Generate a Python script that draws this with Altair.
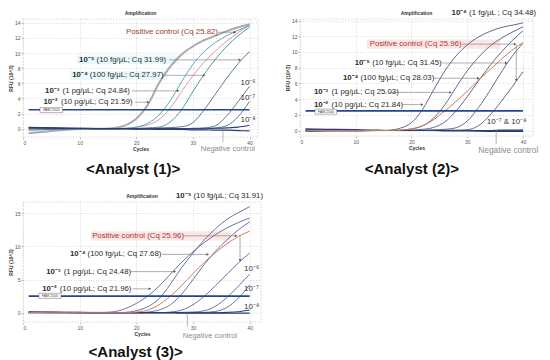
import altair as alt
import pandas as pd

FONT = "Liberation Sans"

CYCLES = [1, 5, 10, 14, 16, 18, 20, 22, 24, 26, 28, 30, 32, 34, 36, 38, 40]

# ---------------- Analyst (1): RFU (10^3) ----------------
a1_d2 = [-0.6, -0.3, -0.05, 0.0, 0.1, 0.4, 1.3, 3.1, 6.0, 8.2, 9.8, 10.9, 11.7, 12.3, 12.9, 13.4, 13.8]
a1_pc = [0.0, 0.0, 0.0, 0.0, 0.0, 0.05, 0.2, 0.5, 1.2, 2.7, 4.9, 7.0, 8.8, 10.3, 11.6, 12.7, 13.7]
a1_d3 = [0.05, 0.0, 0.0, 0.0, 0.0, 0.05, 0.2, 0.7, 1.8, 3.7, 6.2, 8.5, 10.2, 11.4, 12.3, 13.0, 13.6]
a1_d4 = [0.1, 0.05, 0.0, 0.0, 0.0, 0.0, 0.05, 0.1, 0.2, 0.9, 2.5, 4.9, 7.2, 9.2, 10.9, 12.3, 13.4]
a1_d5 = [0.0, 0.0, 0.0, 0.0, 0.0, 0.0, 0.0, 0.05, 0.1, 0.15, 0.25, 0.8, 2.5, 4.6, 6.7, 8.6, 10.2]
a1_d6 = [-0.2, -0.1, 0.0, 0.0, 0.0, 0.0, 0.0, 0.0, 0.0, 0.0, 0.0, 0.05, 0.1, 0.4, 1.7, 3.6, 5.6]
a1_d7 = [0.0, 0.0, 0.0, 0.0, 0.0, 0.0, 0.0, 0.0, 0.0, 0.0, 0.0, 0.0, 0.05, 0.1, 0.4, 1.6, 3.6]
a1_d8 = [0.2, 0.1, 0.05, 0.0, 0.0, 0.0, 0.0, 0.0, 0.0, 0.0, 0.0, 0.0, 0.0, 0.05, 0.1, 0.2, 0.45]
a1_nc = [0.15, 0.1, 0.05, 0.0, 0.0, 0.0, -0.05, -0.05, -0.1, -0.1, -0.1, -0.15, -0.15, -0.2, -0.2, -0.25, -0.3]

# ---------------- Analyst (2) ----------------
a2_d2 = [0.05, 0.0, 0.0, 0.0, 0.05, 0.3, 1.0, 2.7, 5.2, 7.6, 9.5, 10.9, 11.9, 12.6, 13.1, 13.4, 13.7]
a2_d3 = [0.1, 0.05, 0.0, 0.0, 0.0, 0.05, 0.2, 0.6, 1.6, 3.3, 5.5, 7.6, 9.3, 10.7, 11.7, 12.5, 13.2]
a2_pc = [0.0, 0.0, 0.0, 0.0, 0.0, 0.05, 0.2, 0.6, 1.4, 2.5, 3.7, 5.0, 6.4, 7.7, 9.0, 10.2, 11.2]
a2_d4 = [0.0, 0.0, 0.0, 0.0, 0.0, 0.0, 0.05, 0.15, 0.4, 1.1, 2.5, 4.3, 6.3, 8.2, 9.9, 11.4, 12.7]
a2_d5 = [0.0, 0.0, 0.0, 0.0, 0.0, 0.0, 0.0, 0.05, 0.1, 0.15, 0.35, 1.2, 2.9, 5.0, 7.3, 9.4, 11.1]
a2_d6 = [0.0, 0.0, 0.0, 0.0, 0.0, 0.0, 0.0, 0.0, 0.0, 0.05, 0.05, 0.1, 0.6, 1.9, 3.6, 5.5, 7.5]
a2_d7 = [0.05, 0.05, 0.0, 0.0, 0.0, 0.0, 0.0, 0.0, 0.0, 0.0, 0.0, 0.0, 0.0, 0.0, 0.05, 0.05, 0.1]
a2_d8 = [-0.1, -0.05, -0.05, 0.0, 0.0, 0.0, 0.0, 0.0, 0.0, 0.0, 0.0, 0.0, -0.05, -0.05, -0.05, -0.05, -0.05]
a2_nc = [0.2, 0.15, 0.1, 0.05, 0.0, 0.0, 0.0, 0.0, 0.0, -0.05, -0.05, -0.05, -0.05, -0.1, -0.1, -0.1, -0.1]

# ---------------- Analyst (3) ----------------
a3_d2 = [0.1, 0.1, 0.05, 0.05, 0.15, 0.6, 1.4, 2.5, 4.0, 5.8, 7.6, 9.2, 10.6, 11.8, 12.8, 13.6, 14.3]
a3_d3 = [0.1, 0.05, 0.0, 0.0, 0.0, 0.05, 0.3, 0.9, 2.1, 4.3, 6.8, 9.0, 11.0, 12.7, 14.1, 15.1, 16.0]
a3_pc = [0.05, 0.0, 0.0, 0.0, 0.0, 0.0, 0.1, 0.4, 1.2, 2.5, 4.1, 5.9, 7.6, 9.1, 10.4, 11.5, 12.3]
a3_d4 = [0.05, 0.0, 0.0, 0.0, 0.0, 0.0, 0.0, 0.1, 0.4, 1.2, 2.8, 5.0, 7.3, 9.3, 11.0, 12.5, 13.7]
a3_d5 = [0.0, 0.0, 0.0, 0.0, 0.0, 0.0, 0.0, 0.0, 0.0, 0.1, 0.4, 1.2, 2.5, 4.1, 5.8, 7.5, 9.0]
a3_d6 = [0.0, 0.0, 0.0, 0.0, 0.0, 0.0, 0.0, 0.0, 0.0, 0.0, 0.05, 0.1, 0.3, 1.0, 2.3, 4.0, 5.8]
a3_d7 = [0.0, 0.0, 0.0, 0.0, 0.0, 0.0, 0.0, 0.0, 0.0, 0.0, 0.0, 0.0, 0.05, 0.2, 0.8, 2.2, 4.2]
a3_d8 = [0.05, 0.05, 0.0, 0.0, 0.0, 0.0, 0.0, 0.0, 0.0, 0.0, 0.0, 0.0, 0.0, 0.0, 0.05, 0.15, 0.4]
a3_nc = [0.1, 0.05, 0.05, 0.0, 0.0, 0.0, 0.0, 0.0, 0.0, 0.0, -0.05, -0.05, -0.05, -0.05, -0.05, -0.05, -0.05]

THRESHOLD = 2.5
THR_START, THR_END = 1, 40

# ---------------- annotation texts ----------------
HEAD = ["Amplification"]

A1_PC = ["Positive control (Cq 25.82)"]
A1_BOLD = ["10⁻⁵", "10⁻⁴", "10⁻³", "10⁻²"]
A1_REST = ["(10 fg/μL; Cq 31.99)", "(100 fg/μL; Cq 27.97)", "(1 pg/μL; Cq 24.84)", "(10 pg/μL; Cq 21.59)"]
A1_SIDE = ["10⁻⁶", "10⁻⁷", "10⁻⁸"]

A2_PC = ["Positive control (Cq 25.96)"]
A2_TOP_BOLD = ["10⁻⁶"]
A2_TOP_REST = ["(1 fg/μL ; Cq 34.48)"]
A2_BOLD = ["10⁻⁵", "10⁻⁴", "10⁻³", "10⁻²"]
A2_REST = ["(10 fg/μL; Cq 31.45)", "(100 fg/μL; Cq 28.03)", "(1 pg/μL; Cq 25.03)", "(10 pg/μL; Cq 21.84)"]
A2_SIDE = ["10⁻⁷ & 10⁻⁸"]

A3_PC = ["Positive control (Cq 25.96)"]
A3_TOP_BOLD = ["10⁻⁵"]
A3_TOP_REST = ["(10 fg/μL; Cq 31.91)"]
A3_BOLD = ["10⁻⁴", "10⁻³", "10⁻²"]
A3_REST = ["(100 fg/μL; Cq 27.68)", "(1 pg/μL; Cq 24.48)", "(10 pg/μL; Cq 21.96)"]
A3_SIDE = ["10⁻⁶", "10⁻⁷", "10⁻⁸"]

# annotation anchor points (cycle, RFU)
A1_HEAD_POS = dict(x=[20.75], y=[15.25])
A1_PC_POS = dict(x=[18.2], y=[12.75], ax0=[34.4], ax1=[37.4])
A1_LAB_POS = dict(x=[9.9, 8.7, 3.9, 3.6], y=[9.1, 7.05, 5.0, 3.5],
                  ax0=[25.8, 25.0, 19.2, 19.8], ax1=[38.3, 32.0, 27.4, 22.1])
A1_SIDE_POS = dict(x=[38.4, 38.4, 38.4], y=[6.1, 4.1, 1.1])
A1_NC_POS = dict(x=[31.4], y=[-2.75], cx=[35.3], cy0=[-0.25], cy1=[-1.8])

A2_HEAD_POS = dict(x=[20.9], y=[14.92])
A2_PC_POS = dict(x=[12.5], y=[11.0], ax0=[29.1], ax1=[38.6])
A2_TOP_POS = dict(x=[27.2], y=[14.95], vx=[38.8], vy0=[10.9], vy1=[6.4])
A2_LAB_POS = dict(x=[9.8, 7.7, 2.5, 2.5], y=[8.6, 6.65, 4.85, 3.3],
                  ax0=[25.4, 24.0, 16.0, 18.4], ax1=[37.0, 32.0, 27.0, 21.9])
A2_SIDE_POS = dict(x=[33.5], y=[1.1])
A2_NC_POS = dict(x=[32.0], y=[-2.6], cx=[35.2], cy0=[0.0], cy1=[-1.7])
A2_BAND = dict(x=[12.0], x2=[36.0], y=[10.4], y2=[11.6])

A3_HEAD_POS = dict(x=[21.0], y=[17.55])
A3_PC_POS = dict(x=[12.2], y=[11.6], ax0=[28.3], ax1=[37.6])
A3_TOP_POS = dict(x=[27.0], y=[17.55], vx=[38.3], vy0=[11.6], vy1=[7.9])
A3_LAB_POS = dict(x=[8.3, 4.1, 3.4], y=[8.8, 6.2, 3.6],
                  ax0=[24.5, 19.0, 19.3], ax1=[32.6, 26.8, 22.4])
A3_SIDE_POS = dict(x=[39.0, 39.0, 39.0], y=[6.6, 3.6, 0.9])
A3_NC_POS = dict(x=[28.2], y=[-3.5], cx=[29.0], cy0=[0.0], cy1=[-2.1])
A3_BAND = dict(x=[12.0], x2=[36.7], y=[10.9], y2=[12.3])

A1_FAM = dict(x=[3.0], x2=[7.0], y=[2.12], y2=[2.78], cx=[5.0], cy=[2.45])
A2_FAM = dict(x=[2.7], x2=[6.6], y=[2.08], y2=[2.72], cx=[4.65], cy=[2.4])
A3_FAM = dict(x=[2.8], x2=[6.7], y=[2.17], y2=[2.93], cx=[4.75], cy=[2.55])

SLATE1 = "#4a6b8c"
TEAL1 = "#43a0b3"
NAVY = "#283c78"


def curve_frame(items):
    rows = []
    for name, vals, color, width in items:
        for c, v in zip(CYCLES, vals):
            rows.append({"cycle": c, "rfu": v, "series": name, "col": color, "w": width})
    return pd.DataFrame(rows)


def build_panel(cfg):
    xs = alt.Scale(domain=cfg["xdom"], nice=False, zero=False)
    ys = alt.Scale(domain=cfg["ydom"], nice=False, zero=False)
    common = dict(labelFontSize=5, labelColor="#555", titleFontSize=5, titleFontWeight="bold",
                  titleColor="#333", tickSize=2, tickColor="#888", tickWidth=0.5,
                  labelPadding=1, titlePadding=1, domain=False, grid=True,
                  gridColor="#c6c6c6", gridDash=[1, 1.5], gridWidth=0.6,
                  labelFont=FONT, titleFont=FONT)
    xax = alt.Axis(values=[0, 10, 20, 30, 40], title="Cycles", format="d", **common)
    yax = alt.Axis(values=cfg["yticks"], title="RFU (10^3)", format="d", **common)

    def X(f):
        return alt.X(f + ":Q", scale=xs, axis=xax)

    def Y(f):
        return alt.Y(f + ":Q", scale=ys, axis=yax)

    layers = []
    if cfg.get("band"):
        bd = pd.DataFrame(cfg["band"])
        layers.append(alt.Chart(bd).mark_rect(color="#fbe2e2", opacity=0.9).encode(
            x=X("x"), x2="x2", y=Y("y"), y2="y2"))
    if cfg.get("cyan"):
        cd = pd.DataFrame(cfg["cyan"])
        layers.append(alt.Chart(cd).mark_rect(color="#e6f8fa", opacity=0.9).encode(
            x=X("x"), x2="x2", y=Y("y"), y2="y2"))

    # curves
    for grp in cfg["curve_groups"]:
        df = curve_frame(grp)
        layers.append(alt.Chart(df).mark_line(interpolate="monotone").encode(
            x=X("cycle"), y=Y("rfu"), detail="series:N",
            color=alt.Color("col:N", scale=None),
            strokeWidth=alt.StrokeWidth("w:Q", scale=None)))

    # threshold
    td = pd.DataFrame({"x": [THR_START], "x2": [THR_END], "y": [THRESHOLD]})
    layers.append(alt.Chart(td).mark_rule(color="#23458c", strokeWidth=1.7).encode(
        x=X("x"), x2="x2", y=Y("y")))
    fd = pd.DataFrame(cfg["fam"])
    fd["t"] = "FAM 2500"
    layers.append(alt.Chart(fd).mark_rect(fill="white", stroke="#666", strokeWidth=0.5).encode(
        x=X("x"), x2="x2", y=Y("y"), y2="y2"))
    layers.append(alt.Chart(fd).mark_text(fontSize=3.6, color="#444", font=FONT).encode(
        x=X("cx"), y=Y("cy"), text="t:N"))

    # chart heading (as a text mark so it can share the row with top labels)
    hd = pd.DataFrame(cfg["head_pos"])
    hd["t"] = HEAD
    layers.append(alt.Chart(hd).mark_text(baseline="middle", fontSize=5, fontWeight="bold",
                                          color="#333", font=FONT).encode(
        x=X("x"), y=Y("y"), text="t:N"))

    # dilution labels with arrows
    ld = pd.DataFrame(cfg["lab_pos"])
    ld["bold"] = cfg["bold"]
    ld["rest"] = cfg["rest"]
    layers.append(alt.Chart(ld).mark_rule(color="#777", strokeWidth=0.6).encode(
        x=X("ax0"), x2="ax1", y=Y("y")))
    layers.append(alt.Chart(ld).mark_point(shape="triangle-right", filled=True, size=8,
                                           color="#555", opacity=1).encode(x=X("ax1"), y=Y("y")))
    layers.append(alt.Chart(ld).mark_text(align="left", baseline="middle", fontSize=7.8,
                                          fontWeight="bold", color="#2b2b2b", font=FONT).encode(
        x=X("x"), y=Y("y"), text="bold:N"))
    layers.append(alt.Chart(ld).mark_text(align="left", baseline="middle", fontSize=7.8,
                                          dx=17.5, color="#2b2b2b", font=FONT).encode(
        x=X("x"), y=Y("y"), text="rest:N"))

    # positive control label
    pd_ = pd.DataFrame(cfg["pc_pos"])
    pd_["t"] = cfg["pc"]
    layers.append(alt.Chart(pd_).mark_rule(color="#777", strokeWidth=0.6).encode(
        x=X("ax0"), x2="ax1", y=Y("y")))
    layers.append(alt.Chart(pd_).mark_point(shape="triangle-right", filled=True, size=8,
                                            color="#555", opacity=1).encode(x=X("ax1"), y=Y("y")))
    layers.append(alt.Chart(pd_).mark_text(align="left", baseline="middle", fontSize=7.8,
                                           color="#a63a30", font=FONT).encode(
        x=X("x"), y=Y("y"), text="t:N"))

    # top label with vertical arrow
    if cfg.get("top_pos"):
        tp = pd.DataFrame(cfg["top_pos"])
        tp["bold"] = cfg["top_bold"]
        tp["rest"] = cfg["top_rest"]
        layers.append(alt.Chart(tp).mark_rule(color="#777", strokeWidth=0.6).encode(
            x=X("vx"), y=Y("vy0"), y2="vy1"))
        layers.append(alt.Chart(tp).mark_point(shape="triangle-down", filled=True, size=8,
                                               color="#555", opacity=1).encode(x=X("vx"), y=Y("vy1")))
        layers.append(alt.Chart(tp).mark_text(align="left", baseline="middle", fontSize=7.8,
                                              fontWeight="bold", color="#2b2b2b", font=FONT).encode(
            x=X("x"), y=Y("y"), text="bold:N"))
        layers.append(alt.Chart(tp).mark_text(align="left", baseline="middle", fontSize=7.8,
                                              dx=17.5, color="#2b2b2b", font=FONT).encode(
            x=X("x"), y=Y("y"), text="rest:N"))

    # side labels
    sd = pd.DataFrame(cfg["side_pos"])
    sd["t"] = cfg["side"]
    layers.append(alt.Chart(sd).mark_text(align="left", baseline="middle", fontSize=8,
                                          color="#333", font=FONT).encode(
        x=X("x"), y=Y("y"), text="t:N"))

    # negative control
    nd = pd.DataFrame(cfg["nc_pos"])
    nd["t"] = "Negative control"
    layers.append(alt.Chart(nd).mark_rule(color="#888", strokeWidth=0.6).encode(
        x=X("cx"), y=Y("cy0"), y2="cy1"))
    layers.append(alt.Chart(nd).mark_text(align="left", baseline="middle", fontSize=cfg["nc_size"],
                                          color="#8c8c8c", font=FONT).encode(
        x=X("x"), y=Y("y"), text="t:N"))

    layer = alt.layer(*layers).properties(width=cfg["w"], height=cfg["h"])
    return alt.vconcat(layer, spacing=0, title=alt.TitleParams(
        cfg["caption"], orient="bottom", fontSize=15, fontWeight="bold", color="#111",
        offset=cfg["cap_offset"], anchor="middle", font=FONT))


p1 = build_panel(dict(
    xdom=[0, 41.5], ydom=[-1.1, 14.5], yticks=[0, 2, 4, 6, 8, 10, 12, 14], w=235, h=118,
    curve_groups=[
        [("d2", a1_d2, "#a9a9af", 2.0)],
        [("pc", a1_pc, "#d98c9c", 0.9), ("d3", a1_d3, TEAL1, 0.9), ("d4", a1_d4, "#3f8a9c", 0.9),
         ("d5", a1_d5, SLATE1, 0.9), ("d6", a1_d6, SLATE1, 0.9), ("d7", a1_d7, "#3f6f86", 0.9),
         ("d8", a1_d8, NAVY, 1.1), ("nc", a1_nc, NAVY, 1.2)],
    ],
    head_pos=A1_HEAD_POS,
    fam=A1_FAM, lab_pos=A1_LAB_POS, bold=A1_BOLD, rest=A1_REST,
    pc_pos=A1_PC_POS, pc=A1_PC, side_pos=A1_SIDE_POS, side=A1_SIDE,
    nc_pos=A1_NC_POS, nc_size=7.5,
    cyan=dict(x=[9.5, 8.3], x2=[27.5, 25.5], y=[8.5, 6.45], y2=[9.7, 7.65]),
    caption="<Analyst (1)>", cap_offset=9))

p2 = build_panel(dict(
    xdom=[0, 41.8], ydom=[-0.7, 14.2], yticks=[0, 2, 4, 6, 8, 10, 12, 14], w=233, h=117,
    curve_groups=[
        [("d2", a2_d2, "#4c5a86", 0.9), ("d3", a2_d3, "#4c5a86", 0.9), ("d4", a2_d4, "#4c5a86", 0.9),
         ("d5", a2_d5, "#4c5a86", 0.9), ("d6", a2_d6, "#4c5a86", 0.9),
         ("d7", a2_d7, NAVY, 1.1), ("d8", a2_d8, NAVY, 1.1), ("nc", a2_nc, NAVY, 1.2)],
        [("pc", a2_pc, "#d4784f", 1.0)],
    ],
    head_pos=A2_HEAD_POS,
    fam=A2_FAM, lab_pos=A2_LAB_POS, bold=A2_BOLD, rest=A2_REST,
    pc_pos=A2_PC_POS, pc=A2_PC, side_pos=A2_SIDE_POS, side=A2_SIDE,
    top_pos=A2_TOP_POS, top_bold=A2_TOP_BOLD, top_rest=A2_TOP_REST,
    nc_pos=A2_NC_POS, nc_size=8.3, band=A2_BAND,
    caption="<Analyst (2)>", cap_offset=7))

p3 = build_panel(dict(
    xdom=[0, 42], ydom=[-1.4, 16.7], yticks=[0, 5, 10, 15], w=238, h=120,
    curve_groups=[
        [("d2", a3_d2, "#55659a", 0.9), ("d3", a3_d3, "#55659a", 0.9), ("d4", a3_d4, "#55659a", 0.9),
         ("d5", a3_d5, "#55659a", 0.9), ("d6", a3_d6, "#55659a", 0.9), ("d7", a3_d7, "#55659a", 0.9),
         ("d8", a3_d8, NAVY, 1.1), ("nc", a3_nc, NAVY, 1.2)],
        [("pc", a3_pc, "#dc7b55", 1.0)],
    ],
    head_pos=A3_HEAD_POS,
    fam=A3_FAM, lab_pos=A3_LAB_POS, bold=A3_BOLD, rest=A3_REST,
    pc_pos=A3_PC_POS, pc=A3_PC, side_pos=A3_SIDE_POS, side=A3_SIDE,
    top_pos=A3_TOP_POS, top_bold=A3_TOP_BOLD, top_rest=A3_TOP_REST,
    nc_pos=A3_NC_POS, nc_size=7.5, band=A3_BAND,
    caption="<Analyst (3)>", cap_offset=5))

chart = alt.vconcat(
    alt.hconcat(p1, p2, spacing=26),
    p3,
    spacing=14,
).properties(padding=0, background="white").configure(
    font=FONT,
    view=alt.ViewConfig(stroke="#bdbdbd", strokeWidth=0.6, strokeDash=[1.5, 1.5]),
)

chart.save("out.html", embed_options={"renderer": "svg", "actions": False})
